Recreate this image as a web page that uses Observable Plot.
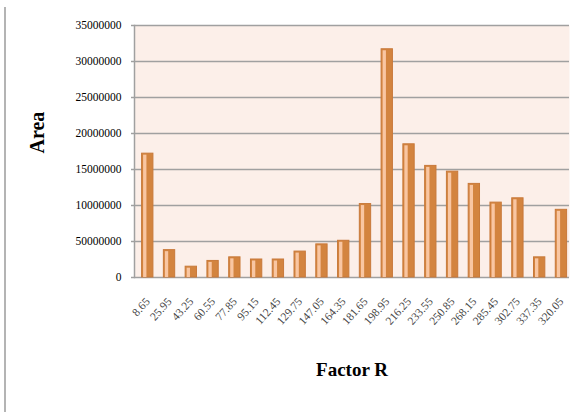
<!DOCTYPE html>
<html>
<head>
<meta charset="utf-8">
<script src="https://cdn.jsdelivr.net/npm/d3@7"></script>
<script src="https://cdn.jsdelivr.net/npm/@observablehq/plot@0.6"></script>
<style>
  html, body { margin: 0; padding: 0; background: #fff; }
  #wrap { position: relative; width: 582px; height: 412px; }
  #edge { position: absolute; left: 4px; top: 7px; width: 2px; height: 405px; background: #b4b4b4; }
  svg { position: absolute; left: 0; top: 0; }
  [aria-label="x-axis tick label"] text, [aria-label="x-axis"] text { fill: #454545; }
  [aria-label="y-axis tick"] path, [aria-label="y-axis"] line { stroke: #a0a0a0; stroke-width: 1.5; }
</style>
</head>
<body>
<div id="wrap"><div id="edge"></div></div>
<script>
const categories = ["8.65","25.95","43.25","60.55","77.85","95.15","112.45","129.75","147.05","164.35","181.65","198.95","216.25","233.55","250.85","268.15","285.45","302.75","337.35","320.05"];
const areaValues = [17200000,3800000,1500000,2300000,2800000,2500000,2500000,3600000,4600000,5100000,10200000,31700000,18500000,15500000,14700000,13000000,10400000,11000000,2800000,9400000];
const yTicks = [0,5000000,10000000,15000000,20000000,25000000,30000000,35000000];
const yTickLabels = ["0","50000000","10000000","15000000","20000000","25000000","30000000","35000000"];
const xTitle = "Factor R";
const yTitle = "Area";

const data = categories.map((c, i) => ({factor: c, area: areaValues[i]}));

const chart = Plot.plot({
  width: 582,
  height: 412,
  marginLeft: 134,
  marginRight: 13,
  marginTop: 25,
  marginBottom: 135,
  style: {fontFamily: "Liberation Serif, serif", fontSize: "11.5px", background: "transparent", color: "#000"},
  x: {domain: categories, range: [141.6, 566.6], round: false, paddingInner: 0.48, paddingOuter: 0, align: 0.5, tickSize: 0, tickPadding: 22, tickRotate: -48, label: null},
  y: {domain: [0, 35000000], ticks: yTicks, tickFormat: (d) => yTickLabels[yTicks.indexOf(d)], tickSize: 3, tickPadding: 10, label: null},
  marks: [
    Plot.frame({fill: "#fcefe9", stroke: null}),
    Plot.ruleY(yTicks, {stroke: "#a0a0a0", strokeWidth: 1.5}),
    Plot.frame({anchor: "left", stroke: "#a0a0a0", strokeWidth: 1.5}),
    Plot.barY(data, {x: "factor", y: "area", fill: "#d3843f", stroke: "#c8793a", strokeWidth: 1}),
    Plot.barY(data, {x: "factor", y: "area", fill: "#f9c6a2", insetLeft: 1.5, insetRight: 6.5, insetTop: 1.5}),
    Plot.text([yTitle], {frameAnchor: "left", dx: -97, dy: 2, rotate: -90, fontSize: 20, fontWeight: "bold", fill: "#000", fontFamily: "Liberation Serif, serif"}),
    Plot.text([xTitle], {frameAnchor: "bottom", dy: 98, fontSize: 19, fontWeight: "bold", fill: "#000", fontFamily: "Liberation Serif, serif"})
  ]
});
document.getElementById("wrap").appendChild(chart);
</script>
</body>
</html>
